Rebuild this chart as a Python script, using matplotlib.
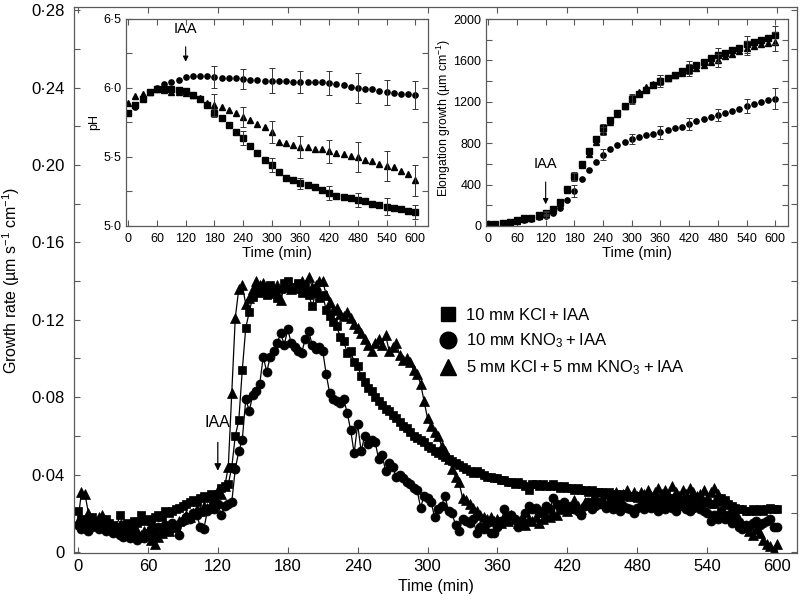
import numpy as np
import matplotlib.pyplot as plt
from matplotlib.ticker import MultipleLocator, FuncFormatter
from matplotlib.lines import Line2D

plt.rcParams['font.family'] = ['Liberation Sans', 'DejaVu Sans']
plt.rcParams['mathtext.fontset'] = 'custom'
plt.rcParams['mathtext.rm'] = 'Liberation Sans'
plt.rcParams['mathtext.it'] = 'Liberation Sans:italic'
plt.rcParams['mathtext.bf'] = 'Liberation Sans:bold'

# growth rate, one reading every 3 min (0 ... 600)
time = np.arange(0, 601, 3)
rate_kcl = [
    0.021, 0.017, 0.015, 0.016, 0.018, 0.015, 0.016, 0.014, 0.017, 0.015,
    0.014, 0.013, 0.019, 0.014, 0.015, 0.014, 0.016, 0.015, 0.019, 0.016,
    0.017, 0.016, 0.018, 0.019, 0.018, 0.021, 0.020, 0.021, 0.022, 0.023,
    0.024, 0.025, 0.026, 0.027, 0.026, 0.028, 0.029, 0.028, 0.030, 0.029,
    0.030, 0.033, 0.034, 0.035, 0.044, 0.060, 0.068, 0.094, 0.116, 0.124,
    0.132, 0.136, 0.134, 0.137, 0.133, 0.138, 0.135, 0.131, 0.136, 0.139,
    0.140, 0.137, 0.136, 0.139, 0.134, 0.138, 0.133, 0.127, 0.134, 0.131,
    0.133, 0.125, 0.122, 0.119, 0.117, 0.111, 0.109, 0.103, 0.104, 0.098,
    0.096, 0.091, 0.088, 0.085, 0.083, 0.080, 0.078, 0.076, 0.074, 0.073,
    0.071, 0.069, 0.067, 0.065, 0.064, 0.062, 0.060, 0.059, 0.058, 0.057,
    0.055, 0.054, 0.052, 0.051, 0.050, 0.049, 0.048, 0.047, 0.046, 0.045,
    0.044, 0.043, 0.042, 0.041, 0.042, 0.041, 0.040, 0.039, 0.039, 0.038,
    0.038, 0.037, 0.037, 0.036, 0.036, 0.035, 0.036, 0.035, 0.034, 0.032,
    0.035, 0.035, 0.034, 0.035, 0.034, 0.034, 0.035, 0.034, 0.033, 0.034,
    0.033, 0.033, 0.032, 0.033, 0.032, 0.032, 0.031, 0.032, 0.031, 0.031,
    0.031, 0.030, 0.031, 0.030, 0.030, 0.029, 0.030, 0.029, 0.029, 0.029,
    0.028, 0.029, 0.028, 0.028, 0.028, 0.027, 0.028, 0.027, 0.027, 0.028,
    0.027, 0.027, 0.026, 0.027, 0.026, 0.026, 0.027, 0.026, 0.025, 0.026,
    0.026, 0.025, 0.025, 0.026, 0.028, 0.027, 0.025, 0.024, 0.023, 0.022,
    0.022, 0.021, 0.021, 0.022, 0.021, 0.022, 0.021, 0.022, 0.023, 0.022,
    0.022]
rate_kno3 = [
    0.014, 0.012, 0.015, 0.011, 0.013, 0.014, 0.012, 0.013, 0.011, 0.012,
    0.010, 0.011, 0.009, 0.008, 0.010, 0.007, 0.009, 0.006, 0.008, 0.007,
    0.010, 0.012, 0.009, 0.013, 0.012, 0.014, 0.011, 0.015, 0.013, 0.009,
    0.016, 0.018, 0.017, 0.020, 0.019, 0.013, 0.012, 0.021, 0.023, 0.022,
    0.025, 0.019, 0.024, 0.025, 0.026, 0.043, 0.052, 0.058, 0.079, 0.073,
    0.081, 0.083, 0.087, 0.101, 0.093, 0.101, 0.104, 0.108, 0.113, 0.107,
    0.115, 0.108, 0.106, 0.104, 0.103, 0.110, 0.114, 0.107, 0.105, 0.106,
    0.104, 0.092, 0.082, 0.079, 0.078, 0.077, 0.079, 0.072, 0.063, 0.051,
    0.066, 0.052, 0.060, 0.056, 0.058, 0.057, 0.048, 0.050, 0.042, 0.046,
    0.044, 0.039, 0.040, 0.038, 0.036, 0.035, 0.033, 0.032, 0.023, 0.029,
    0.028, 0.026, 0.018, 0.022, 0.024, 0.029, 0.021, 0.020, 0.014, 0.011,
    0.017, 0.016, 0.015, 0.017, 0.010, 0.013, 0.012, 0.015, 0.010, 0.010,
    0.013, 0.016, 0.022, 0.018, 0.019, 0.017, 0.013, 0.016, 0.020, 0.024,
    0.022, 0.023, 0.020, 0.021, 0.024, 0.022, 0.028, 0.025, 0.023, 0.026,
    0.023, 0.024, 0.022, 0.021, 0.019, 0.024, 0.026, 0.022, 0.024, 0.025,
    0.025, 0.023, 0.024, 0.022, 0.025, 0.021, 0.024, 0.023, 0.022, 0.020,
    0.023, 0.024, 0.022, 0.025, 0.023, 0.024, 0.021, 0.024, 0.022, 0.025,
    0.023, 0.021, 0.024, 0.024, 0.022, 0.021, 0.023, 0.024, 0.022, 0.021,
    0.020, 0.016, 0.019, 0.017, 0.021, 0.017, 0.019, 0.015, 0.018, 0.013,
    0.012, 0.014, 0.013, 0.015, 0.016, 0.014, 0.015, 0.016, 0.017, 0.013,
    0.013]
rate_mix = [
    0.016, 0.031, 0.030, 0.020, 0.017, 0.015, 0.018, 0.019, 0.016, 0.014,
    0.013, 0.012, 0.014, 0.011, 0.012, 0.010, 0.013, 0.011, 0.009, 0.011,
    0.009, 0.006, 0.004, 0.008, 0.010, 0.012, 0.011, 0.014, 0.013, 0.016,
    0.017, 0.019, 0.018, 0.020, 0.022, 0.021, 0.024, 0.023, 0.025, 0.027,
    0.032, 0.030, 0.034, 0.044, 0.082, 0.121, 0.136, 0.138, 0.128, 0.131,
    0.136, 0.140, 0.138, 0.139, 0.137, 0.134, 0.136, 0.138, 0.130, 0.137,
    0.139, 0.136, 0.138, 0.137, 0.140, 0.138, 0.142, 0.137, 0.138, 0.140,
    0.140, 0.133, 0.129, 0.125, 0.126, 0.123, 0.122, 0.124, 0.121, 0.118,
    0.116, 0.113, 0.110, 0.107, 0.104, 0.108, 0.110, 0.107, 0.112, 0.104,
    0.106, 0.108, 0.102, 0.099, 0.100, 0.098, 0.094, 0.092, 0.087, 0.078,
    0.069, 0.065, 0.062, 0.060, 0.055, 0.052, 0.048, 0.043, 0.039, 0.036,
    0.028, 0.027, 0.025, 0.023, 0.021, 0.019, 0.018, 0.017, 0.018, 0.016,
    0.017, 0.015, 0.018, 0.016, 0.019, 0.017, 0.015, 0.018, 0.014, 0.017,
    0.016, 0.018, 0.015, 0.017, 0.019, 0.018, 0.020, 0.019, 0.022, 0.025,
    0.021, 0.023, 0.027, 0.024, 0.022, 0.026, 0.025, 0.027, 0.029, 0.026,
    0.028, 0.030, 0.027, 0.029, 0.031, 0.028, 0.030, 0.032, 0.029, 0.031,
    0.029, 0.031, 0.030, 0.032, 0.029, 0.031, 0.033, 0.030, 0.032, 0.029,
    0.034, 0.031, 0.029, 0.032, 0.030, 0.033, 0.031, 0.029, 0.030, 0.032,
    0.028, 0.031, 0.033, 0.030, 0.027, 0.025, 0.026, 0.022, 0.020, 0.017,
    0.015, 0.013, 0.011, 0.009, 0.012, 0.010, 0.006, 0.004, 0.003, 0.001,
    0.004]

# insets, one reading every 15 min
t15 = np.arange(0, 601, 15)
ph_kcl = [5.82, 5.88, 5.92, 5.97, 5.99, 5.99, 5.99, 5.985, 5.98, 5.95,
          5.92, 5.875, 5.82, 5.78, 5.73, 5.68, 5.635, 5.58, 5.53, 5.48,
          5.44, 5.39, 5.35, 5.33, 5.31, 5.30, 5.28, 5.26, 5.24, 5.22,
          5.21, 5.20, 5.19, 5.18, 5.16, 5.15, 5.14, 5.13, 5.12, 5.11, 5.10]
ph_kno3 = [5.82, 5.86, 5.92, 5.97, 6.00, 6.03, 6.045, 6.06, 6.08, 6.09,
           6.09, 6.085, 6.08, 6.075, 6.07, 6.07, 6.065, 6.06, 6.055, 6.053,
           6.053, 6.05, 6.048, 6.046, 6.046, 6.045, 6.044, 6.042, 6.036, 6.03,
           6.02, 6.01, 6.0, 5.995, 5.99, 5.98, 5.97, 5.965, 5.96, 5.955, 5.95]
ph_mix = [5.89, 5.94, 5.96, 5.97, 5.99, 5.985, 5.97, 5.97, 5.965, 5.95,
          5.93, 5.89, 5.88, 5.86, 5.84, 5.82, 5.79, 5.77, 5.74, 5.72,
          5.68, 5.61, 5.60, 5.59, 5.575, 5.575, 5.555, 5.555, 5.54, 5.53,
          5.52, 5.51, 5.50, 5.48, 5.47, 5.45, 5.435, 5.43, 5.40, 5.38, 5.33]
ph_err_t = [180, 240, 300, 360, 420, 480, 540, 600]
ph_err_kcl = [0.03, 0.05, 0.05, 0.04, 0.05, 0.05, 0.06, 0.05]
ph_err_kno3 = [0.08, 0.07, 0.09, 0.08, 0.09, 0.11, 0.09, 0.10]
ph_err_mix = [0.08, 0.07, 0.08, 0.08, 0.08, 0.11, 0.11, 0.11]

el_kcl = [16, 22, 32, 42, 55, 74, 80, 103, 128, 160,
          231, 353, 482, 600, 722, 844, 947, 1027, 1091, 1162,
          1226, 1274, 1316, 1358, 1400, 1428, 1460, 1495, 1530, 1560,
          1589, 1621, 1653, 1675, 1701, 1724, 1756, 1775, 1798, 1814, 1846]
el_kno3 = [12, 18, 28, 38, 50, 60, 68, 85, 100, 125,
           176, 255, 340, 450, 540, 620, 690, 740, 780, 810,
           840, 860, 875, 890, 905, 925, 945, 960, 985, 1010,
           1030, 1050, 1075, 1095, 1115, 1135, 1160, 1180, 1200, 1215, 1230]
el_mix = [14, 20, 30, 40, 52, 68, 75, 95, 115, 150,
          225, 345, 470, 590, 700, 810, 915, 1000, 1085, 1160,
          1230, 1290, 1340, 1375, 1410, 1430, 1455, 1480, 1510, 1530,
          1560, 1580, 1600, 1640, 1660, 1690, 1720, 1740, 1760, 1770, 1780]
el_err_t = [120, 180, 240, 300, 360, 420, 480, 540, 600]
el_err_kcl = [20, 40, 40, 50, 60, 60, 70, 80, 90]
el_err_kno3 = [20, 60, 50, 50, 60, 60, 60, 70, 100]
el_err_mix = [20, 40, 40, 40, 50, 60, 60, 70, 90]

labels = ['10 m\u1d0d KCl\u2009+\u2009IAA',
          '10 m\u1d0d KNO$_\\mathrm{3}$\u2009+\u2009IAA',
          '5 m\u1d0d KCl\u2009+\u20095 m\u1d0d KNO$_\\mathrm{3}$\u2009+\u2009IAA']
markers = ['s', 'o', '^']
frame = '#5a5a5a'


def dot_fmt(ndig):
    def f(v, pos):
        if abs(v) < 1e-9:
            return '0'
        return f'{v:.{ndig}f}'.replace('.', '\u00b7')
    return FuncFormatter(f)


def style_axes(ax, size, pad):
    for s in ax.spines.values():
        s.set_color(frame)
        s.set_linewidth(0.9)
    ax.tick_params(which='both', direction='in', top=True, right=True,
                   length=4, width=0.8, color=frame, labelsize=size, pad=pad)


fig = plt.figure(figsize=(8, 6.01), dpi=100)

# main panel
ax = fig.add_axes([74 / 800, 1 - 553 / 601, 723 / 800, 546 / 601])
for vals, m, ms in zip([rate_kcl, rate_kno3, rate_mix], markers, [6, 6.5, 6.5]):
    ax.plot(time, vals, color='k', lw=0.9, marker=m, ms=ms,
            mec='k', mfc='k', mew=0.5)
ax.set_xlim(-3.4, 617)
ax.set_ylim(-0.0005, 0.2816)
ax.xaxis.set_major_locator(MultipleLocator(60))
ax.yaxis.set_major_locator(MultipleLocator(0.04))
ax.yaxis.set_minor_locator(MultipleLocator(0.02))
ax.yaxis.set_major_formatter(dot_fmt(2))
style_axes(ax, 12, 4)
ax.tick_params(axis='y', pad=7)
ax.set_xlabel('Time (min)', fontsize=11.5, labelpad=4)
ax.set_ylabel('Growth rate (\u00b5m s$^{-1}$ cm$^{-1}$)', fontsize=11.5)
ax.yaxis.set_label_coords(-0.072, 0.5)
ax.annotate('IAA', xy=(120, 0.042), xytext=(120, 0.067), ha='center', va='center',
            fontsize=11.5, arrowprops=dict(arrowstyle='-|>', color='k', lw=0.9,
                                           mutation_scale=10, shrinkA=7, shrinkB=0))

handles = [Line2D([], [], ls='none', marker=m, ms=s, color='k')
           for m, s in zip(markers, [10, 12, 11])]
ax.legend(handles, labels, loc='upper left', bbox_to_anchor=(439 / 800, 1 - 308 / 601),
          bbox_transform=fig.transFigure, frameon=False, fontsize=12,
          handlelength=1.1, handletextpad=0.55, labelspacing=0.5,
          borderpad=0, borderaxespad=0)

# pH inset
ax1 = fig.add_axes([125.7 / 800, 1 - 226 / 601, 302 / 800, 207 / 601])
for vals, m in zip([ph_kcl, ph_kno3, ph_mix], markers):
    ax1.plot(t15, vals, ls='none', marker=m, ms=3.8, color='k')
for vals, err in zip([ph_kcl, ph_kno3, ph_mix], [ph_err_kcl, ph_err_kno3, ph_err_mix]):
    y = [vals[t // 15] for t in ph_err_t]
    ax1.errorbar(ph_err_t, y, yerr=err, ls='none', ecolor='#333333',
                 elinewidth=0.7, capsize=2.5, capthick=0.7)
ax1.set_xlim(-5.4, 626)
ax1.set_ylim(5.0, 6.5)
ax1.xaxis.set_major_locator(MultipleLocator(60))
ax1.yaxis.set_major_locator(MultipleLocator(0.5))
ax1.yaxis.set_minor_locator(MultipleLocator(0.25))
ax1.yaxis.set_major_formatter(dot_fmt(1))
style_axes(ax1, 9, 5)
ax1.tick_params(axis='y', pad=3)
ax1.set_xlabel('Time (min)', fontsize=10.5, labelpad=1)
ax1.set_ylabel('pH', fontsize=9)
ax1.yaxis.set_label_coords((100 - 125.7) / 302, 0.5)
ax1.annotate('IAA', xy=(120, 6.19), xytext=(120, 6.43), ha='center', va='center',
             fontsize=10.5, arrowprops=dict(arrowstyle='-|>', color='k', lw=0.8,
                                            mutation_scale=8, shrinkA=6, shrinkB=0))

# elongation inset
ax2 = fig.add_axes([485.7 / 800, 1 - 226 / 601, 302 / 800, 207 / 601])
for vals, m in zip([el_kcl, el_kno3, el_mix], markers):
    ax2.plot(t15, vals, ls='none', marker=m, ms=3.8, color='k')
for vals, err in zip([el_kcl, el_kno3, el_mix], [el_err_kcl, el_err_kno3, el_err_mix]):
    y = [vals[t // 15] for t in el_err_t]
    ax2.errorbar(el_err_t, y, yerr=err, ls='none', ecolor='#333333',
                 elinewidth=0.7, capsize=2.5, capthick=0.7)
ax2.set_xlim(-5.4, 626)
ax2.set_ylim(0, 2000)
ax2.xaxis.set_major_locator(MultipleLocator(60))
ax2.yaxis.set_major_locator(MultipleLocator(400))
ax2.yaxis.set_minor_locator(MultipleLocator(200))
style_axes(ax2, 9, 5)
ax2.tick_params(axis='y', pad=3)
ax2.set_xlabel('Time (min)', fontsize=10.5, labelpad=1)
ax2.set_ylabel('Elongation growth (\u00b5m cm$^{-1}$)', fontsize=8.8)
ax2.yaxis.set_label_coords((453 - 485.7) / 302, 0.52)
ax2.annotate('IAA', xy=(120, 210), xytext=(120, 600), ha='center', va='center',
             fontsize=10.5, arrowprops=dict(arrowstyle='-|>', color='k', lw=0.8,
                                            mutation_scale=8, shrinkA=6, shrinkB=0))

fig.savefig('out.png', dpi=100)
